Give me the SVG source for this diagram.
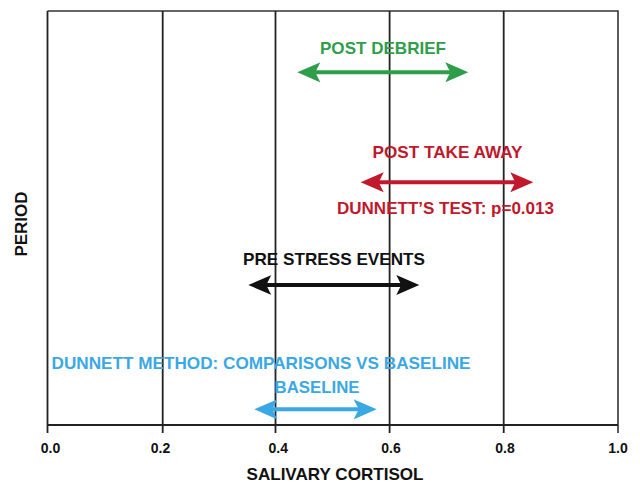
<svg xmlns="http://www.w3.org/2000/svg" width="640" height="485" viewBox="0 0 640 485">
<style>
  text { font-family: "Liberation Sans", Arial, sans-serif; font-weight: bold; }
  .grid { stroke: #222; stroke-width: 1.8; fill: none; }
  .frame { stroke: #333; stroke-width: 1.6; fill: none; }
  .tick { font-size: 14px; fill: #111; text-anchor: middle; }
  .title { font-size: 17px; fill: #111; text-anchor: middle; }
  .lbl { font-size: 17px; text-anchor: middle; }
  .arrow { stroke-width: 4; fill: none; }
</style>
<defs>
  <marker id="mG" viewBox="0 -11 26 22" markerWidth="26" markerHeight="22" refX="11" refY="0" markerUnits="userSpaceOnUse" orient="auto-start-reverse">
    <path d="M0,-10 L23,0 L0,10 L5,0 Z" fill="#2f9e4a"/>
  </marker>
  <marker id="mR" viewBox="0 -11 26 22" markerWidth="26" markerHeight="22" refX="11" refY="0" markerUnits="userSpaceOnUse" orient="auto-start-reverse">
    <path d="M0,-10 L23,0 L0,10 L5,0 Z" fill="#c1182c"/>
  </marker>
  <marker id="mK" viewBox="0 -11 26 22" markerWidth="26" markerHeight="22" refX="11" refY="0" markerUnits="userSpaceOnUse" orient="auto-start-reverse">
    <path d="M0,-10 L23,0 L0,10 L5,0 Z" fill="#111"/>
  </marker>
  <marker id="mB" viewBox="0 -11 26 22" markerWidth="26" markerHeight="22" refX="11" refY="0" markerUnits="userSpaceOnUse" orient="auto-start-reverse">
    <path d="M0,-10 L23,0 L0,10 L5,0 Z" fill="#3aa8e4"/>
  </marker>
</defs>
<rect width="640" height="485" fill="#fff"/>

<g id="axes">
  <path class="frame" d="M47.5,11 H618 V433"/>
  <path class="grid" d="M47.5,11 V433 M162.7,11 V433 M275.5,11 V433 M389.6,11 V433 M503.7,11 V433 M47.5,425 H618"/>
  <text class="tick" x="50.5" y="452.5">0.0</text>
  <text class="tick" x="160.5" y="452.5">0.2</text>
  <text class="tick" x="278.3" y="452.5">0.4</text>
  <text class="tick" x="391" y="452.5">0.6</text>
  <text class="tick" x="505" y="452.5">0.8</text>
  <text class="tick" x="618" y="452.5">1.0</text>
  <text class="title" x="335" y="480" textLength="177" lengthAdjust="spacingAndGlyphs">SALIVARY CORTISOL</text>
  <text class="title" transform="translate(26.5,224) rotate(-90)" x="0" y="0" textLength="65" lengthAdjust="spacingAndGlyphs">PERIOD</text>
</g>

<g id="connectors">
  <line class="arrow" stroke="#2f9e4a" x1="309.3" y1="72.3" x2="456.3" y2="72.3" marker-start="url(#mG)" marker-end="url(#mG)"/>
  <line class="arrow" stroke="#c1182c" x1="372.7" y1="182.3" x2="521.3" y2="182.3" marker-start="url(#mR)" marker-end="url(#mR)"/>
  <line class="arrow" stroke="#111" x1="260.3" y1="285" x2="407.3" y2="285" marker-start="url(#mK)" marker-end="url(#mK)"/>
  <line class="arrow" stroke="#3aa8e4" x1="266.3" y1="409.3" x2="364.7" y2="409.3" marker-start="url(#mB)" marker-end="url(#mB)"/>
</g>

<g id="post-debrief">
  <text class="lbl" fill="#2f9e4a" x="383" y="54" textLength="126" lengthAdjust="spacingAndGlyphs">POST DEBRIEF</text>
</g>
<g id="post-take-away">
  <text class="lbl" fill="#c1182c" x="447.5" y="158.3" textLength="150" lengthAdjust="spacingAndGlyphs">POST TAKE AWAY</text>
  <text class="lbl" fill="#c1182c" x="445.5" y="214" textLength="217" lengthAdjust="spacingAndGlyphs">DUNNETT’S TEST: p=0.013</text>
</g>
<g id="pre-stress-events">
  <text class="lbl" fill="#111" x="334" y="265" textLength="182" lengthAdjust="spacingAndGlyphs">PRE STRESS EVENTS</text>
</g>
<g id="baseline">
  <text class="lbl" fill="#3aa8e4" x="261" y="369" textLength="419" lengthAdjust="spacingAndGlyphs">DUNNETT METHOD: COMPARISONS VS BASELINE</text>
  <text class="lbl" fill="#3aa8e4" x="317" y="393" textLength="85" lengthAdjust="spacingAndGlyphs">BASELINE</text>
</g>
</svg>
